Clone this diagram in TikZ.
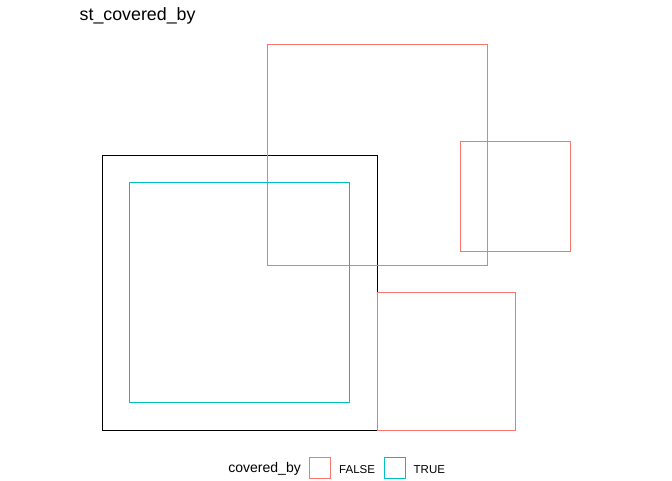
\documentclass[tikz,border=0pt]{standalone}
\usepackage{fontspec}
\setmainfont{Liberation Sans}
\usetikzlibrary{positioning}

\definecolor{falsered}{HTML}{F8766D}
\definecolor{truecyan}{HTML}{00BFC4}

\tikzset{
  geom/.style={line width=1pt},
  legkey/.style={draw, line width=1pt, minimum size=21pt, inner sep=0pt},
  legtext/.style={inner sep=0pt, anchor=west, font=\fontsize{11.5}{13}\selectfont}
}

\begin{document}
\begin{tikzpicture}[x=1pt, y=-1pt]
    \useasboundingbox (0,0) rectangle (672,480);

    % Title
    \node[inner sep=0pt, anchor=base west, font=\fontsize{17.8}{20}\selectfont] (title) at (79.5,20.7) {st\_covered\_by};

    % Covering polygon
    \draw[geom, black] (102,155) rectangle (377,430);

    % Polygons not covered
    \draw[geom, falsered] (267,44) rectangle (487,265);
    \draw[geom, falsered] (460,141) rectangle (570,251);
    \draw[geom, falsered] (377,292) rectangle (515,430);

    % Polygon covered
    \draw[geom, truecyan] (129,182) rectangle (349.5,402);

    % Legend
    \node[legkey, draw=falsered] (keyfalse) at (320,468.3) {};
    \node[legkey, draw=truecyan] (keytrue) at (394.5,468.3) {};
    \node[legtext, left=8pt of keyfalse, anchor=east, font=\fontsize{14}{16}\selectfont, yshift=-1pt] (legtitle) {covered\_by};
    \node[legtext, right=8pt of keyfalse, yshift=-1pt] (labfalse) {FALSE};
    \node[legtext, right=8pt of keytrue, yshift=-1pt] (labtrue) {TRUE};
\end{tikzpicture}
\end{document}
